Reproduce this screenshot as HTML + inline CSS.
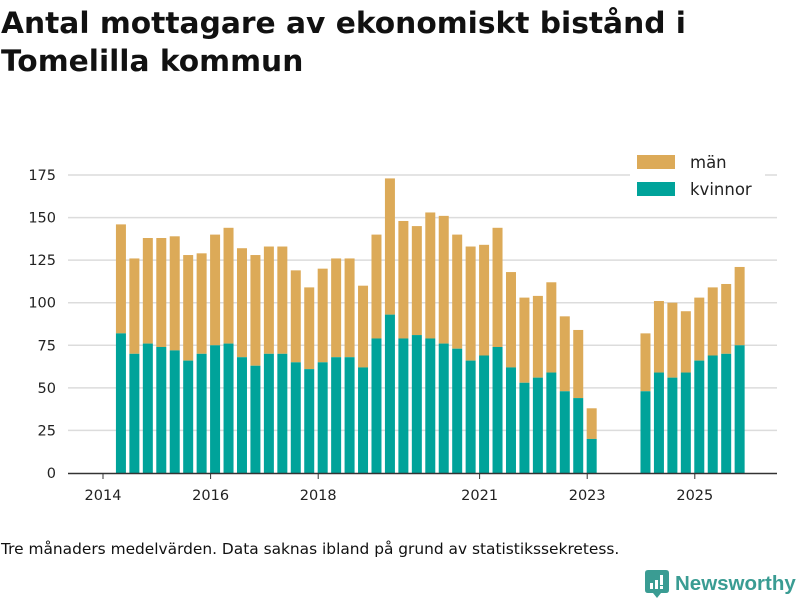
<!DOCTYPE html>
<html><head><meta charset="utf-8"><style>
body{margin:0;width:800px;height:600px;background:#fff;font-family:"DejaVu Sans","Liberation Sans",sans-serif;overflow:hidden;position:relative}
#title{position:absolute;left:1px;top:5px;font-size:29.7px;font-weight:bold;line-height:38px;color:#111;margin:0;white-space:nowrap}
#foot{position:absolute;left:1px;top:540px;font-size:15.4px;color:#111;white-space:nowrap}
#logo{position:absolute;left:645px;top:570px;display:flex;align-items:center;color:#3a9c93;font-size:20.5px;font-weight:bold;font-family:"Liberation Sans",sans-serif}
svg text{font-family:"DejaVu Sans","Liberation Sans",sans-serif}
</style></head><body>
<h1 id="title">Antal mottagare av ekonomiskt bistånd i<br>Tomelilla kommun</h1>
<svg id="chart" width="800" height="600" style="position:absolute;left:0;top:0"></svg>
<div id="foot">Tre månaders medelvärden. Data saknas ibland på grund av statistikssekretess.</div>
<div id="logo"><svg width="24" height="28" style="margin-right:6px"><path d="M0 3 Q0 0 3 0 H21 Q24 0 24 3 V20 Q24 23 21 23 H16 L12 28 L8 23 H3 Q0 23 0 20Z" fill="#3a9c93"/><rect x="5" y="13" width="3" height="6" fill="#fff"/><rect x="10" y="10" width="3" height="9" fill="#fff"/><rect x="15" y="5" width="3" height="10" fill="#fff"/><rect x="15" y="16" width="3" height="3" fill="#fff"/></svg>Newsworthy</div>
<script>
const totals=[146,126,138,138,139,128,129,140,144,132,128,133,133,119,109,120,126,126,110,140,173,148,145,153,151,140,133,134,144,118,103,104,112,92,84,38,null,null,null,82,101,100,95,103,109,111,121];
const kvinnor=[82,70,76,74,72,66,70,75,76,68,63,70,70,65,61,65,68,68,62,79,93,79,81,79,76,73,66,69,74,62,53,56,59,48,44,20,null,null,null,48,59,56,59,66,69,70,75];
const yTicks=[0,25,50,75,100,125,150,175];
const xTicks=[2014,2016,2018,2021,2023,2025];
const startYear=2014+4/12;
const NS="http://www.w3.org/2000/svg";
const svg=document.getElementById('chart');
const y=v=>473-v*(298/175);
const x=t=>103+(t-2014)*53.8;
function mk(tag,attrs){const e=document.createElementNS(NS,tag);for(const k in attrs)e.setAttribute(k,attrs[k]);svg.appendChild(e);return e;}
yTicks.forEach(v=>{
  if(v>0){const g=mk('line',{x1:68,x2:777,y1:y(v),y2:y(v),stroke:'#dcdcdc','stroke-width':1.5});
  
  }
  const t=mk('text',{x:56,y:y(v)+5,'text-anchor':'end','font-size':14.5,fill:'#222'});t.textContent=v;
  
  
});
totals.forEach((tot,i)=>{
  if(tot==null)return;
  const cx=x(startYear+i*0.25),k=kvinnor[i];
  const m=mk('rect',{x:cx-5,y:y(tot),width:10,height:y(k)-y(tot),fill:'#dcaa58'});
  
  
  const r=mk('rect',{x:cx-5,y:y(k),width:10,height:473-y(k),fill:'#00a39a'});
  
  
});
const ax=mk('line',{x1:68,x2:777,y1:473.5,y2:473.5,stroke:'#333','stroke-width':1.5});


xTicks.forEach(yr=>{
  const l=mk('line',{x1:x(yr),x2:x(yr),y1:473,y2:479,stroke:'#333'});
  
  
  const t=mk('text',{x:x(yr),y:500,'text-anchor':'middle','font-size':14.5,fill:'#222'});t.textContent=yr;
  
  
});
const lb=mk('rect',{x:630,y:147,width:135,height:60,fill:'#fff'});


[['män','#dcaa58',155],['kvinnor','#00a39a',182]].forEach(([n,c,yy])=>{
  const s=mk('rect',{x:637,y:yy,width:38,height:14,fill:c});
  
  
  const t=mk('text',{x:690,y:yy+13,'font-size':16.5,fill:'#222'});t.textContent=n;
  
  
});
</script>
</body></html>
